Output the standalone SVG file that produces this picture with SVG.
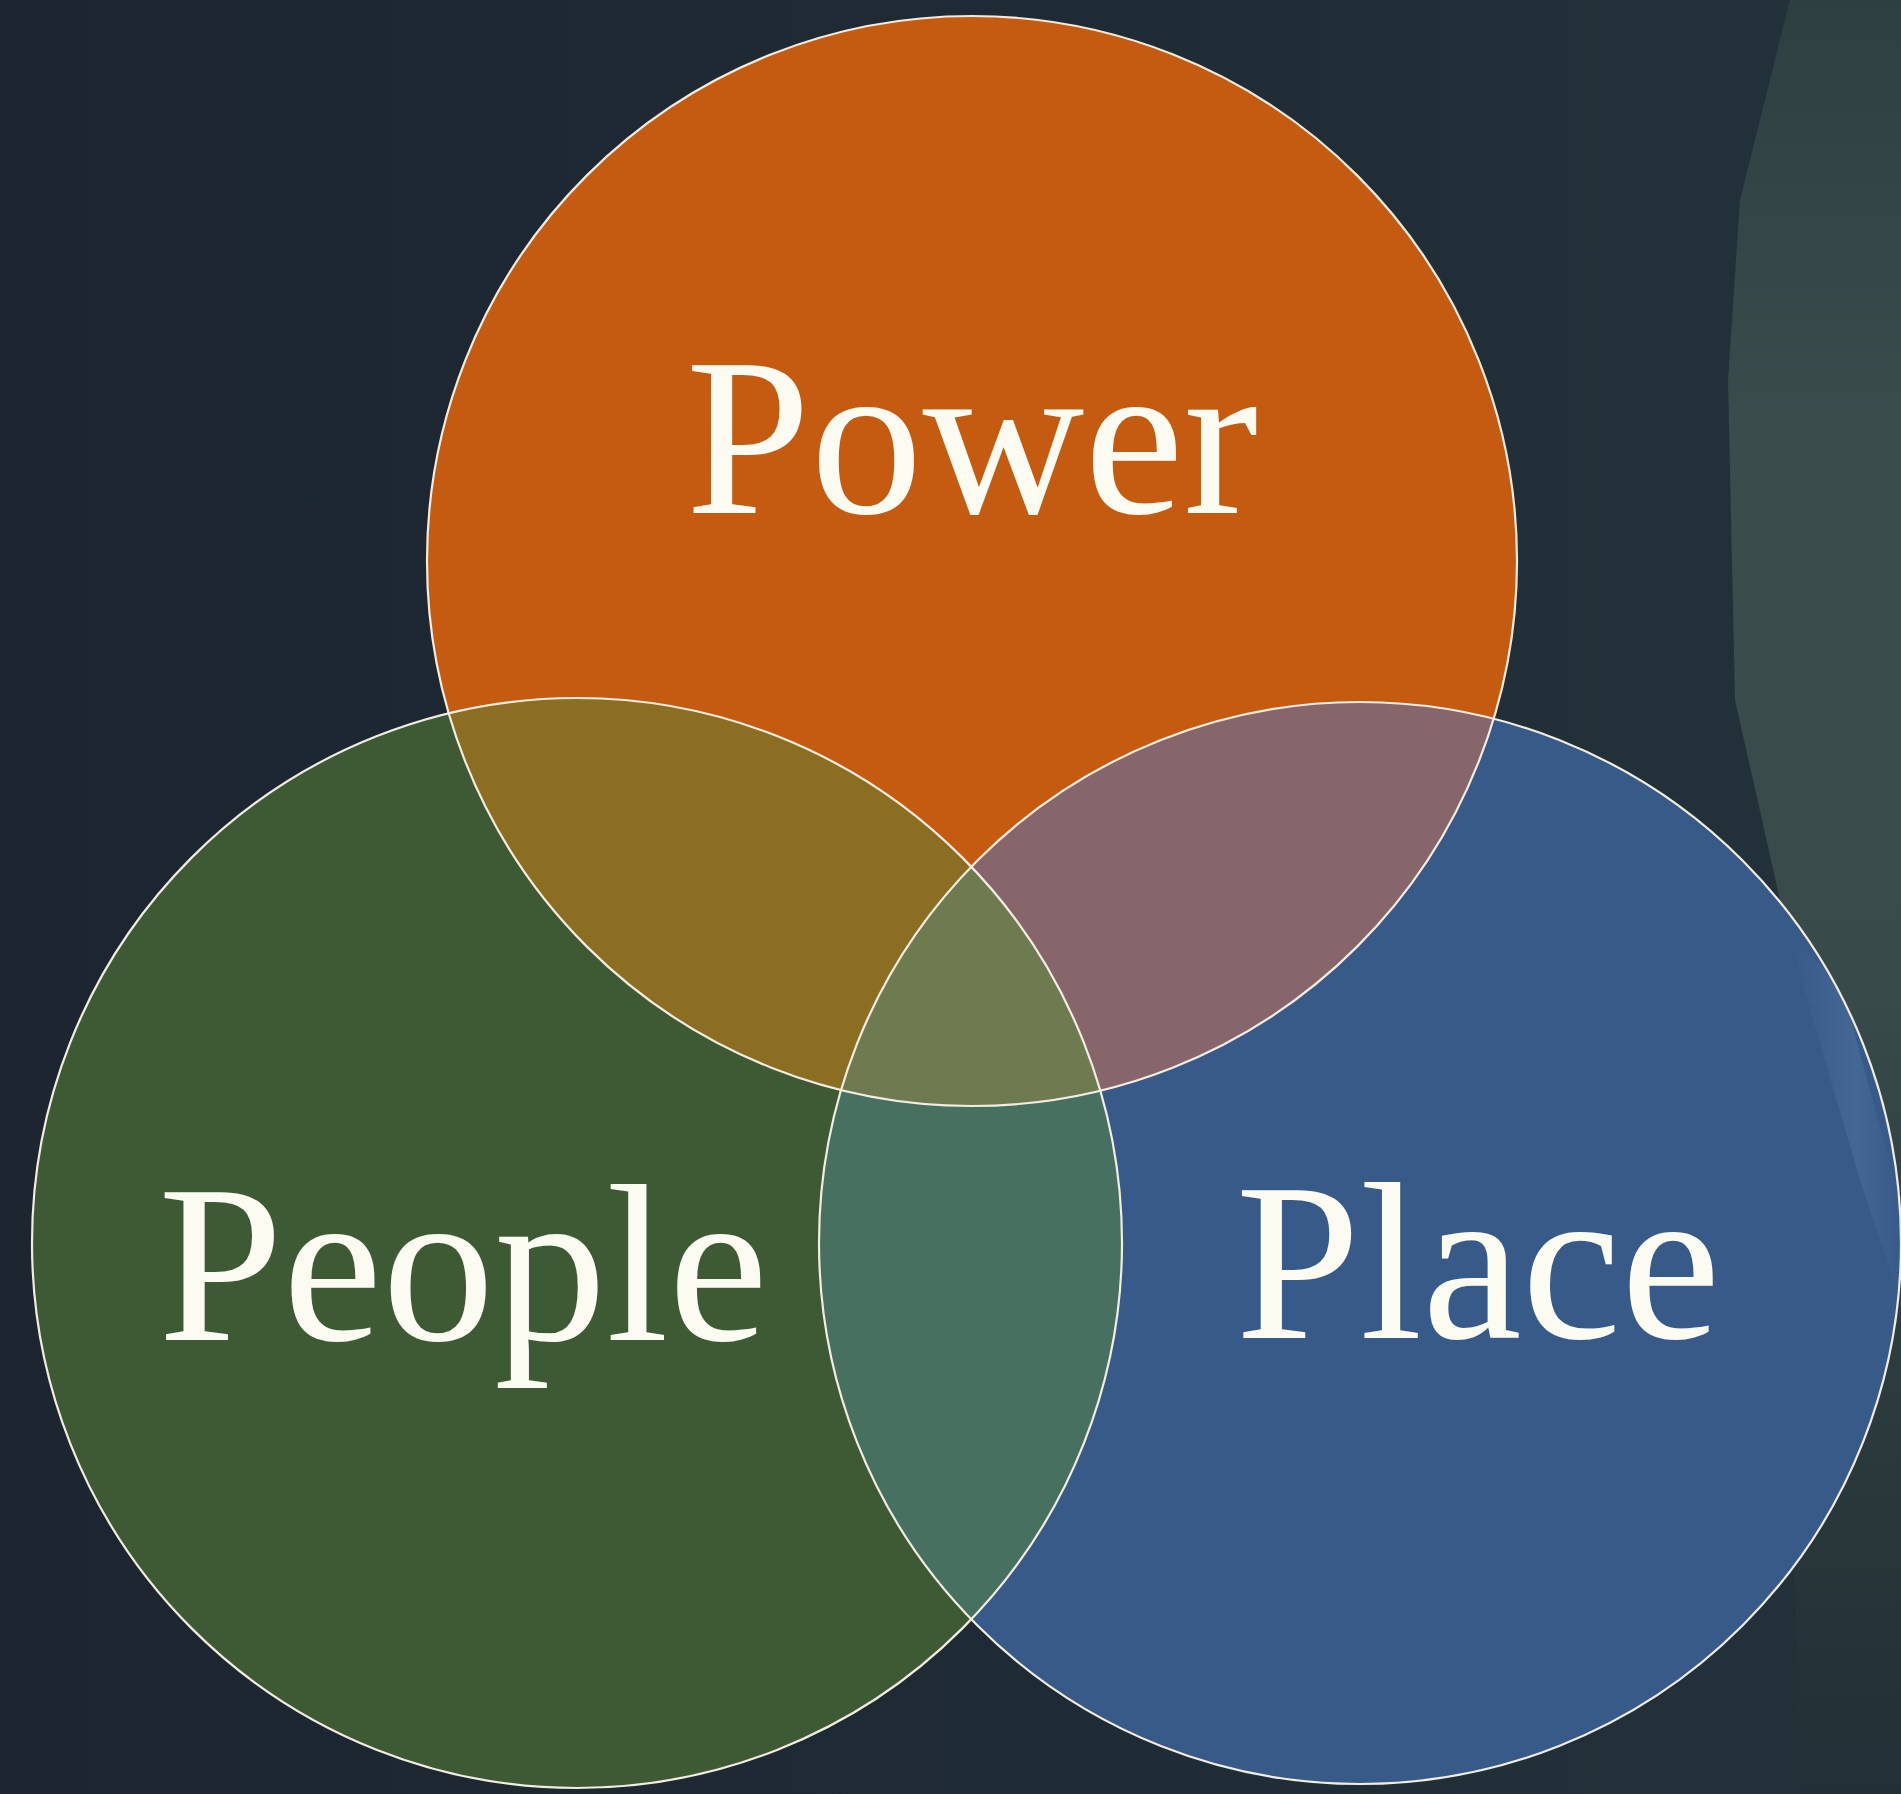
<svg xmlns="http://www.w3.org/2000/svg" width="1901" height="1794" viewBox="0 0 1901 1794">
  <style>
    .outline { fill: none; stroke: #f3ece0; stroke-width: 2.2; }
    .label { font-family: "Liberation Serif", "Times New Roman", serif; font-size: 224px; fill: #fcfbf2; text-anchor: middle; }
  </style>
  <defs>
    <linearGradient id="bg" x1="0" y1="0" x2="1" y2="0">
      <stop offset="0" stop-color="#1c2530"/>
      <stop offset="0.55" stop-color="#1f2b34"/>
      <stop offset="1" stop-color="#23323a"/>
    </linearGradient>
    <linearGradient id="panel" x1="0" y1="0" x2="0" y2="1">
      <stop offset="0" stop-color="#2e3f41"/>
      <stop offset="0.25" stop-color="#3a4c4c"/>
      <stop offset="0.55" stop-color="#384a49"/>
      <stop offset="0.8" stop-color="#2a393b"/>
      <stop offset="1" stop-color="#222f36"/>
    </linearGradient>
    <linearGradient id="streak" x1="0" y1="0" x2="1" y2="0">
      <stop offset="0" stop-color="#6a8fbf" stop-opacity="0"/>
      <stop offset="0.6" stop-color="#6a8fbf" stop-opacity="0.25"/>
      <stop offset="1" stop-color="#6a8fbf" stop-opacity="0"/>
    </linearGradient>
    <clipPath id="clipPower"><circle cx="972" cy="561" r="545"/></clipPath>
    <clipPath id="clipPeople"><circle cx="577" cy="1243" r="545"/></clipPath>
    <clipPath id="clipPlace"><circle cx="1360" cy="1243" r="541"/></clipPath>
  </defs>

  <!-- background -->
  <rect x="0" y="0" width="1901" height="1794" fill="url(#bg)"/>
  <path d="M1790 0 L1901 0 L1901 1794 L1800 1794 L1780 900 L1735 700 L1728 380 L1740 200 L1760 120 Z" fill="url(#panel)"/>

  <!-- base circles -->
  <g id="power">
    <circle cx="972" cy="561" r="545" fill="#c55b11"/>
  </g>
  <g id="people">
    <circle cx="577" cy="1243" r="545" fill="#3e5a35"/>
  </g>
  <g id="place">
    <circle cx="1360" cy="1243" r="541" fill="#375a88"/>
    <path d="M1790 940 L1840 980 L1900 1200 L1900 1300 L1860 1180 Z" fill="url(#streak)" clip-path="url(#clipPlace)"/>
  </g>

  <!-- overlap regions -->
  <g id="overlaps">
    <circle cx="577" cy="1243" r="545" fill="#8b6e22" clip-path="url(#clipPower)"/>
    <circle cx="1360" cy="1243" r="541" fill="#87666b" clip-path="url(#clipPower)"/>
    <circle cx="1360" cy="1243" r="541" fill="#477060" clip-path="url(#clipPeople)"/>
    <g clip-path="url(#clipPower)">
      <circle cx="1360" cy="1243" r="541" fill="#6e7a50" clip-path="url(#clipPeople)"/>
    </g>
  </g>

  <!-- outlines -->
  <g id="outlines">
    <circle class="outline" cx="972" cy="561" r="545"/>
    <circle class="outline" cx="577" cy="1243" r="545"/>
    <circle class="outline" cx="1360" cy="1243" r="541"/>
  </g>

  <!-- labels -->
  <g id="labels">
    <text class="label" x="972" y="513">Power</text>
    <text class="label" x="463" y="1340">People</text>
    <text class="label" x="1478" y="1338">Place</text>
  </g>
</svg>
